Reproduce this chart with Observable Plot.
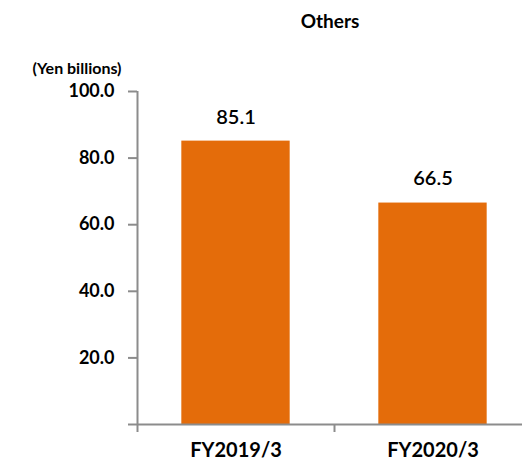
<!DOCTYPE html>
<html>
<head>
<meta charset="utf-8">
<script src="https://cdn.jsdelivr.net/npm/d3@7"></script>
<script src="https://cdn.jsdelivr.net/npm/@observablehq/plot@0.6"></script>
<style>
  html, body { margin: 0; padding: 0; background: #fff; }
  #chart svg { display: block; }
</style>
</head>
<body>
<div id="chart"></div>
<script>
const categories = ["FY2019/3", "FY2020/3"];
const values = [85.1, 66.5];
const yTicks = [0, 20, 40, 60, 80, 100];
const title = "Others";
const unitLabel = "(Yen billions)";

const data = categories.map((c, i) => ({category: c, value: values[i], index: i}));
const barColor = "#E46C0A";
const axisColor = "#8c8c8c";
const font = "Lato, 'Open Sans', sans-serif";

const chart = Plot.plot({
  width: 522,
  height: 467,
  marginTop: 91,
  marginBottom: 43,
  marginLeft: 137,
  marginRight: 0,
  style: {fontFamily: font, background: "#fff"},
  x: {domain: [0, categories.length], range: [137, 531]},
  y: {domain: [0, 100], range: [424, 91]},
  marks: [
    Plot.rectY(data, {x1: d => d.index + 0.225, x2: d => d.index + 0.775, y: "value", fill: barColor}),
    Plot.ruleX([0], {y1: 0, y2: 100, stroke: axisColor, strokeWidth: 2}),
    Plot.ruleY([0], {stroke: axisColor, strokeWidth: 2}),
    Plot.axisY({
      ticks: yTicks, tickSize: 9, tickPadding: 14, stroke: axisColor, strokeWidth: 2, fill: "#000",
      tickFormat: d => d === 0 ? "" : d.toFixed(1),
      fontSize: 18, fontWeight: "bold", label: null
    }),
    Plot.axisX({
      ticks: d3.range(categories.length + 1), tickSize: 8, stroke: axisColor, strokeWidth: 2,
      tickFormat: () => "", label: null
    }),
    Plot.axisX({
      ticks: categories.map((c, i) => i + 0.5), tickSize: 0, tickPadding: 18, fill: "#000",
      tickFormat: d => categories[Math.floor(d)],
      fontSize: 20, fontWeight: "bold", label: null
    }),
    Plot.text(data, {
      x: d => d.index + 0.5, y: "value", text: d => d.value.toFixed(1),
      dy: -24, fontSize: 20, fontWeight: 600, fill: "#000", fontFamily: font
    }),
    Plot.text([title], {
      frameAnchor: "top", lineAnchor: "middle", dy: -70, fontSize: 19, fontWeight: "bold", fill: "#000"
    }),
    Plot.text([unitLabel], {
      frameAnchor: "top-left", lineAnchor: "middle", textAnchor: "end", dx: -16, dy: -23,
      fontSize: 16, fontWeight: "bold", fill: "#000"
    })
  ]
});
document.getElementById("chart").appendChild(chart);
</script>
</body>
</html>
